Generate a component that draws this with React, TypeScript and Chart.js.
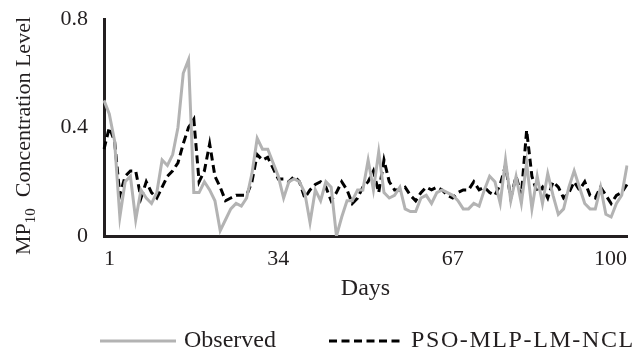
import React, { useEffect, useRef } from "react";
import { Chart, registerables } from "chart.js";

Chart.register(...registerables);

const days: number[] = Array.from({ length: 100 }, (_, i) => i + 1);
const xTickDays: number[] = [1, 34, 67, 100];
const yTicks: number[] = [0, 0.4, 0.8];

const observed: number[] = [
  0.5, 0.45, 0.35, 0.07, 0.2, 0.22, 0.06, 0.17, 0.14, 0.12,
  0.16, 0.28, 0.26, 0.3, 0.4, 0.6, 0.65, 0.16, 0.16, 0.2,
  0.17, 0.13, 0.02, 0.06, 0.1, 0.12, 0.11, 0.14, 0.23, 0.36,
  0.32, 0.32, 0.27, 0.22, 0.14, 0.2, 0.21, 0.2, 0.16, 0.05,
  0.17, 0.13, 0.2, 0.18, 0.0, 0.07, 0.13, 0.13, 0.17, 0.17,
  0.28, 0.17, 0.31, 0.16, 0.14, 0.15, 0.18, 0.1, 0.09, 0.09,
  0.14, 0.15, 0.12, 0.16, 0.17, 0.16, 0.15, 0.13, 0.1, 0.1,
  0.12, 0.11, 0.17, 0.22, 0.2, 0.12, 0.28, 0.13, 0.22, 0.12,
  0.27, 0.1, 0.22, 0.12, 0.23, 0.15, 0.08, 0.1, 0.18, 0.24,
  0.18, 0.12, 0.1, 0.1, 0.18, 0.08, 0.07, 0.12, 0.15, 0.26,
];

const predicted: number[] = [
  0.32, 0.4, 0.35, 0.15, 0.22, 0.24, 0.24, 0.14, 0.2, 0.16,
  0.14, 0.18, 0.22, 0.24, 0.27, 0.34, 0.4, 0.43, 0.2, 0.24,
  0.34, 0.22, 0.18, 0.13, 0.14, 0.15, 0.15, 0.15, 0.2, 0.3,
  0.28, 0.29, 0.25, 0.21, 0.21, 0.2, 0.22, 0.2, 0.14, 0.17,
  0.19, 0.2, 0.18, 0.13, 0.16, 0.2, 0.17, 0.12, 0.14, 0.18,
  0.2, 0.24, 0.16, 0.28, 0.2, 0.17, 0.17, 0.18, 0.15, 0.13,
  0.16, 0.18, 0.17, 0.18, 0.17, 0.15, 0.14, 0.16, 0.17, 0.17,
  0.2, 0.17, 0.18, 0.16, 0.15, 0.19, 0.26, 0.14, 0.22, 0.15,
  0.39, 0.22, 0.16, 0.18, 0.14, 0.2, 0.18, 0.14, 0.16, 0.2,
  0.17, 0.2, 0.15, 0.14, 0.18, 0.15, 0.12, 0.15, 0.16, 0.19,
];

const FONT = "'Liberation Serif', 'DejaVu Serif', serif";
const TEXT = "#231f20";
const GRAY = "#b3b3b3";
const DASH = [8, 4.5];

const overlay = {
  id: "overlay",
  afterDraw(chart: any) {
    const ctx = chart.ctx as CanvasRenderingContext2D;
    const area = chart.chartArea;
    ctx.save();
    ctx.fillStyle = TEXT;
    // x title
    ctx.font = `24px ${FONT}`;
    ctx.textAlign = "center";
    ctx.textBaseline = "middle";
    ctx.fillText("Days", (area.left + area.right) / 2, 289);

    // y title with subscript
    ctx.save();
    ctx.translate(23, 136);
    ctx.rotate(-Math.PI / 2);
    const big = `22px ${FONT}`;
    const small = `15px ${FONT}`;
    ctx.font = big;
    const w1 = ctx.measureText("MP").width;
    const w3 = ctx.measureText("  Concentration Level").width;
    ctx.font = small;
    const w2 = ctx.measureText("10").width;
    const total = w1 + w2 + w3;
    let x = -total / 2;
    ctx.textAlign = "left";
    ctx.textBaseline = "alphabetic";
    ctx.font = big;
    ctx.fillText("MP", x, 7);
    x += w1;
    ctx.font = small;
    ctx.fillText("10", x, 12);
    x += w2;
    ctx.font = big;
    ctx.fillText("  Concentration Level", x, 7);
    ctx.restore();

    // legend
    const ly = 341;
    ctx.lineWidth = 3;
    ctx.strokeStyle = GRAY;
    ctx.setLineDash([]);
    ctx.beginPath();
    ctx.moveTo(100, ly);
    ctx.lineTo(176, ly);
    ctx.stroke();
    ctx.strokeStyle = "#000";
    ctx.setLineDash(DASH);
    ctx.beginPath();
    ctx.moveTo(329, ly);
    ctx.lineTo(404, ly);
    ctx.stroke();
    ctx.setLineDash([]);
    ctx.font = `24px ${FONT}`;
    ctx.textAlign = "left";
    ctx.textBaseline = "middle";
    ctx.fillText("Observed", 184, ly);
    (ctx as any).letterSpacing = "1.6px";
    ctx.fillText("PSO-MLP-LM-NCL", 411, ly);
    (ctx as any).letterSpacing = "0px";
    ctx.restore();
  },
};

export default function App() {
  const ref = useRef<HTMLCanvasElement | null>(null);
  useEffect(() => {
    if (!ref.current) return;
    const chart = new Chart(ref.current, {
      type: "line",
      data: {
        labels: days,
        datasets: [
          {
            label: "Observed",
            data: observed,
            borderColor: GRAY,
            borderWidth: 3,
            pointRadius: 0,
            tension: 0,
            fill: false,
          },
          {
            label: "PSO-MLP-LM-NCL",
            data: predicted,
            borderColor: "#000",
            borderWidth: 3,
            borderDash: DASH,
            pointRadius: 0,
            tension: 0,
            fill: false,
          },
        ],
      },
      options: {
        animation: false,
        responsive: false,
        layout: { padding: { left: 0, right: 16, top: 19, bottom: 0 } },
        plugins: { legend: { display: false }, tooltip: { enabled: false } },
        scales: {
          x: {
            type: "category",
            offset: false,
            grid: { display: false, drawTicks: true, tickLength: 10, tickColor: "rgba(0,0,0,0)" },
            border: { display: true, color: TEXT, width: 3 },
            ticks: {
              autoSkip: false,
              maxRotation: 0,
              padding: 0,
              align: "inner",
              color: TEXT,
              font: { family: FONT, size: 22 },
              callback: (_v: any, i: number) =>
                xTickDays.includes(days[i]) ? String(days[i]) : "",
            },
            afterFit: (s: any) => {
              s.height = 116;
            },
          },
          y: {
            min: 0,
            max: 0.8,
            grid: { display: false, drawTicks: true, tickLength: 14, tickColor: "rgba(0,0,0,0)" },
            border: { display: true, color: TEXT, width: 3 },
            afterBuildTicks: (s: any) => {
              s.ticks = yTicks.map((v) => ({ value: v }));
            },
            ticks: {
              padding: 2,
              color: TEXT,
              font: { family: FONT, size: 22 },
              callback: (v: any) => String(v),
            },
            afterFit: (s: any) => {
              s.width = 104;
            },
          },
        },
      },
      plugins: [overlay],
    });
    return () => chart.destroy();
  }, []);
  return (
    <div style={{ position: "fixed", left: 0, top: 0, width: 643, height: 352, background: "#fff" }}>
      <canvas ref={ref} width={643} height={352} style={{ width: 643, height: 352 }} />
    </div>
  );
}
